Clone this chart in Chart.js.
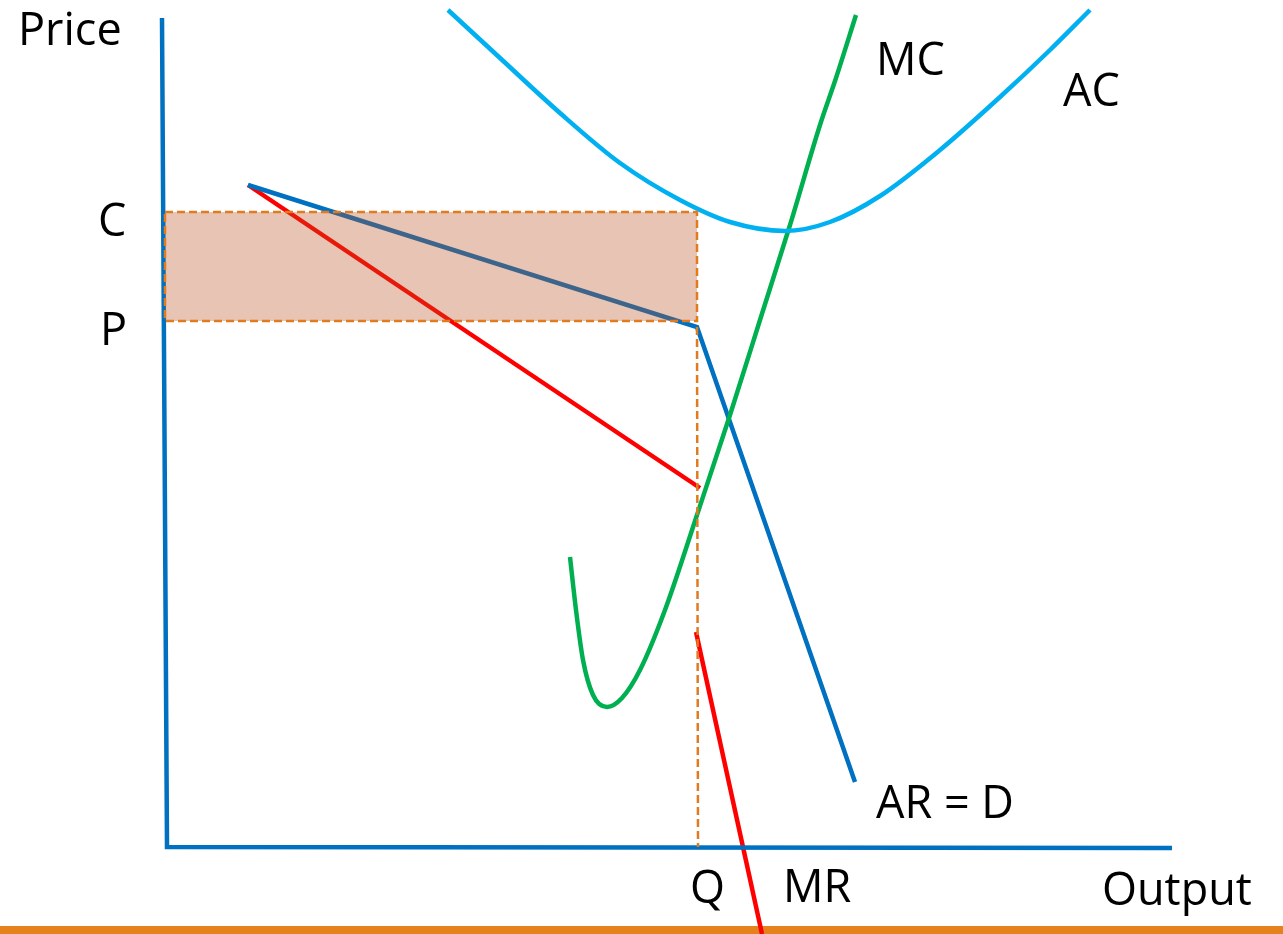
<!DOCTYPE html>
<html>
<head>
<meta charset="utf-8">
<script src="https://cdn.jsdelivr.net/npm/chart.js@4.4.1/dist/chart.umd.min.js"></script>
<style>
    html, body { margin: 0; padding: 0; background: #fff; }
    #wrap { width: 1283px; height: 934px; }
</style>
</head>
<body>
<div id="wrap"><canvas id="chart-1" width="1283" height="934"></canvas></div>
<script>
// axes of the diagram (output, price units)
var axisOutput = [-0.3, 0.2, 100.7];
var axisPrice = [82.9, 0, -0.1];

// kinked demand curve AR = D
var arOutput = [8.3, 53.2, 69.0];
var arPrice = [66.2, 52.0, 6.5];

// marginal revenue, two pieces with the gap at Q
var mrTopOutput = [8.3, 53.5];
var mrTopPrice = [66.2, 35.9];
var mrLowOutput = [53.1, 59.7];
var mrLowPrice = [21.5, -8.7];

// marginal cost
var mcOutput = [40.5, 41.1, 41.8, 42.8, 44.2, 45.7, 47.5, 50.0, 53.2, 56.5, 59.5, 62.5, 65.5, 67.1, 69.1];
var mcPrice = [29.0, 23.7, 18.7, 15.2, 14.0, 14.9, 17.7, 23.7, 33.2, 43.2, 52.7, 62.2, 72.2, 76.9, 83.2];

// average cost
var acOutput = [28.3, 33.5, 39.5, 45.5, 51.5, 56.5, 62.0, 66.5, 71.5, 77.5, 83.5, 88.5, 92.5];
var acPrice = [83.7, 78.9, 73.4, 68.4, 64.7, 62.5, 61.6, 62.5, 65.1, 69.7, 75.0, 79.7, 83.7];

// levels
var qOutput = 53.2;
var pLevel = 52.6;
var cLevel = 63.5;

// text labels
var labelTexts = ['Price', 'C', 'P', 'MC', 'AC', 'AR = D', 'Q', 'MR', 'Output'];
var labelOutput = [-14.7, -6.7, -6.5, 71.1, 89.8, 71.1, 52.5, 61.8, 93.7];
var labelPrice = [80.2, 61.1, 50.2, 77.2, 74.1, 2.9, -5.6, -5.5, -5.8];

function zip(xs, ys) {
    var pts = [];
    for (var i = 0; i < xs.length; i++) {
        pts.push({x: xs[i], y: ys[i]});
    }
    return pts;
}

var blue = '#0070c0',
    red = '#ff0000',
    green = '#00b050',
    cyan = '#00b0f0',
    orange = '#e07b20';

var labelsPlugin = {
    id: 'labels',
    beforeDatasetsDraw: function (chart) {
        var ctx = chart.ctx;
        ctx.save();
        ctx.fillStyle = '#e6821e';
        ctx.fillRect(0, 926, chart.width, 8);
        ctx.restore();
    },
    afterDatasetsDraw: function (chart) {
        var ctx = chart.ctx,
            sx = chart.scales.x,
            sy = chart.scales.y;
        ctx.save();
        ctx.fillStyle = '#000';
        ctx.font = '45px "Open Sans"';
        ctx.textAlign = 'left';
        ctx.textBaseline = 'alphabetic';
        for (var i = 0; i < labelTexts.length; i++) {
            ctx.fillText(labelTexts[i], sx.getPixelForValue(labelOutput[i]), sy.getPixelForValue(labelPrice[i]));
        }
        ctx.restore();
    }
};

var line = function (data, color, width, extra) {
    return Object.assign({
        data: data,
        showLine: true,
        borderColor: color,
        borderWidth: width,
        pointRadius: 0,
        fill: false,
        tension: 0,
        order: 2
    }, extra || {});
};

new Chart('chart-1', {
    type: 'scatter',
    data: {
        datasets: [
            line(zip([0, qOutput, qOutput, 0, 0], [cLevel, cLevel, pLevel, pLevel, cLevel]), orange, 2.5, {
                fill: 'shape',
                backgroundColor: 'rgba(185,76,27,0.33)',
                borderDash: [8, 4],
                order: 0
            }),
            line(zip([qOutput, qOutput + 0.1], [arPrice[1], 0]), orange, 2.5, {borderDash: [8, 4], order: 0}),
            line(zip(axisOutput, axisPrice), blue, 4.5),
            line(zip(acOutput, acPrice), cyan, 4.5, {cubicInterpolationMode: 'monotone'}),
            line(zip(mcOutput, mcPrice), green, 4.5, {cubicInterpolationMode: 'monotone'}),
            line(zip(arOutput, arPrice), blue, 4.5),
            line(zip(mrTopOutput, mrTopPrice), red, 4.5),
            line(zip(mrLowOutput, mrLowPrice), red, 4.5)
        ]
    },
    options: {
        responsive: false,
        animation: false,
        devicePixelRatio: 1,
        layout: { padding: 0 },
        plugins: {
            legend: { display: false },
            tooltip: { enabled: false }
        },
        scales: {
            x: { type: 'linear', min: -16.5, max: 111.8, display: false },
            y: { type: 'linear', min: -8.7, max: 84.7, display: false }
        }
    },
    plugins: [labelsPlugin]
});
</script>
</body>
</html>
